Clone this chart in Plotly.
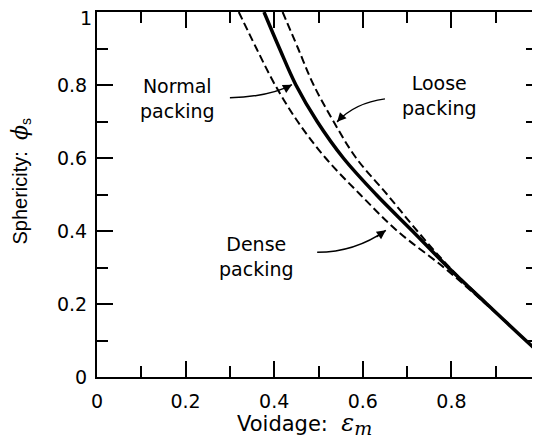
import plotly.graph_objects as go

# ---- data ----
phi_s = [1.0, 0.9, 0.8, 0.7, 0.6, 0.5, 0.4, 0.3, 0.2, 0.1, 0.065]
eps_dense = [0.320, 0.360, 0.402, 0.453, 0.516, 0.594, 0.678, 0.783, 0.878, 0.968, 1.0]
eps_normal = [0.377, 0.412, 0.449, 0.497, 0.556, 0.630, 0.712, 0.793, 0.880, 0.968, 1.0]
eps_loose = [0.419, 0.454, 0.489, 0.534, 0.585, 0.655, 0.723, 0.796, 0.881, 0.968, 1.0]

tick_vals = [0, 0.2, 0.4, 0.6, 0.8, 1.0]
x_tick_text = ["0", "0.2", "0.4", "0.6", "0.8", "1"]
y_tick_text = ["0", "0.2", "0.4", "0.6", "0.8", ""]   # top "1" drawn as annotation below
y_top_label = "1"

labels = ["Normal<br>packing", "Loose<br>packing", "Dense<br>packing"]
label_pos = [(0.181, 0.762), (0.774, 0.771), (0.361, 0.331)]
# connector: start, control, tip
connectors = [
    ((0.300, 0.765), (0.39, 0.768), (0.440, 0.801)),
    ((0.650, 0.762), (0.582, 0.751), (0.542, 0.699)),
    ((0.497, 0.342), (0.582, 0.342), (0.652, 0.402)),
]

FONT = "DejaVu Sans"

fig = go.Figure()
fig.add_trace(go.Scatter(x=eps_dense, y=phi_s, mode="lines", line=dict(color="black", width=2, dash="8px,4px", shape="spline"), hoverinfo="skip"))
fig.add_trace(go.Scatter(x=eps_loose, y=phi_s, mode="lines", line=dict(color="black", width=2, dash="8px,4px", shape="spline"), hoverinfo="skip"))
fig.add_trace(go.Scatter(x=eps_normal, y=phi_s, mode="lines", line=dict(color="black", width=3.5, shape="spline"), hoverinfo="skip"))
# invisible trace to activate right-side tick axis
fig.add_trace(go.Scatter(x=[0.5], y=[0.5], yaxis="y2", mode="markers", marker=dict(opacity=0), hoverinfo="skip"))

shapes = []
annotations = []
for (s, c, t) in connectors:
    shapes.append(dict(type="path", xref="x", yref="y",
                       path=f"M {s[0]},{s[1]} Q {c[0]},{c[1]} {t[0]},{t[1]}",
                       line=dict(color="black", width=1.5)))
    ax = t[0] - 0.35 * (t[0] - c[0])
    ay = t[1] - 0.35 * (t[1] - c[1])
    annotations.append(dict(x=t[0], y=t[1], ax=ax, ay=ay, xref="x", yref="y", axref="x", ayref="y",
                            text="", showarrow=True, arrowhead=2, arrowsize=1.2, arrowwidth=1.5, arrowcolor="black"))

for txt, (lx, ly) in zip(labels, label_pos):
    annotations.append(dict(x=lx, y=ly, xref="x", yref="y", text=txt, showarrow=False, align="center",
                            font=dict(family=FONT, size=19, color="black")))

# top y tick label, nudged so it stays inside the page
annotations.append(dict(x=0, y=tick_vals[-1], xref="paper", yref="y", text=y_top_label, showarrow=False,
                        xanchor="right", yanchor="top", xshift=-4, yshift=6, borderpad=0,
                        font=dict(family=FONT, size=19, color="black")))

annotations.append(dict(x=0.4695, y=-0.128, xref="paper", yref="paper", showarrow=False,
                        text="Voidage:  <span style='font-family:DejaVu Serif;font-size:24px'><i>ε</i></span><sub><span style='font-family:DejaVu Serif;font-size:19px'><i>m</i></span></sub>",
                        font=dict(family=FONT, size=21, color="black"), xanchor="center", yanchor="middle"))
annotations.append(dict(x=-0.172, y=0.535, xref="paper", yref="paper", showarrow=False, textangle=-90,
                        text="Sphericity:  <span style='font-family:DejaVu Serif;font-size:22px'><i>ϕ</i></span><sub>s</sub>",
                        font=dict(family="Liberation Sans", size=20, color="black"), xanchor="center", yanchor="middle"))

axis_common = dict(range=[0, 1], showgrid=False, zeroline=False, ticks="inside", ticklen=16, tickwidth=2,
                   tickcolor="black", tickvals=tick_vals, ticklabeloverflow="allow",
                   automargin=False,
                   tickfont=dict(family=FONT, size=19, color="black"),
                   minor=dict(dtick=0.1, ticks="inside", ticklen=11, tickwidth=2, tickcolor="black"))

# page body has an 8px default margin: figure sized to fill the rest of the window
fig.update_layout(
    width=532, height=430,
    margin=dict(l=89, r=0, t=4, b=61, autoexpand=False),
    paper_bgcolor="white", plot_bgcolor="white",
    showlegend=False,
    xaxis=dict(**axis_common, ticktext=x_tick_text, showline=True, linecolor="black", linewidth=2,
               mirror="ticks", ticklabelstandoff=6),
    yaxis=dict(**axis_common, ticktext=y_tick_text, showline=True, linecolor="black", linewidth=2,
               mirror=False, ticklabelstandoff=4),
    yaxis2=dict(range=[0, 1], overlaying="y", side="right", showgrid=False, zeroline=False, showline=False,
                automargin=False,
                ticks="inside", ticklen=14, tickwidth=2, tickcolor="black", tickvals=tick_vals, showticklabels=False,
                minor=dict(dtick=0.1, ticks="inside", ticklen=14, tickwidth=2, tickcolor="black")),
    shapes=shapes,
    annotations=annotations,
)

fig.write_html("out.html")
